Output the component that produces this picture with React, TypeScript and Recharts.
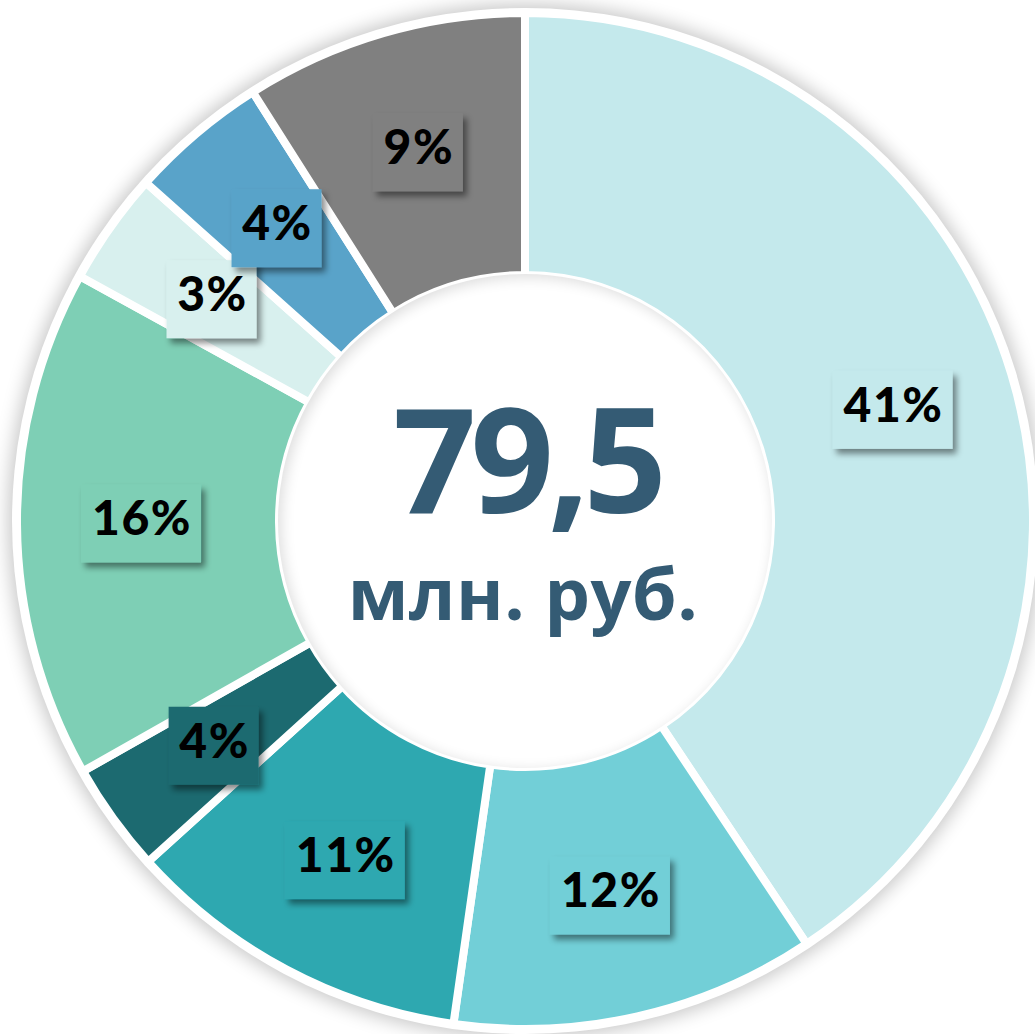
import React from 'react';
import { Cell, Pie, PieChart } from 'recharts';

// Shares of the 79,5 mln rub. total, clockwise from 12 o'clock.
const SEGMENTS = ['s1', 's2', 's3', 's4', 's5', 's6', 's7', 's8'];
const SHARES = [40.65, 11.6, 11.05, 3.5, 16.2, 3.6, 4.4, 9.0];
const LABELS = ['41%', '12%', '11%', '4%', '16%', '3%', '4%', '9%'];
const COLORS = [
  '#c4e9ec',
  '#72cfd7',
  '#2ea8b0',
  '#1c6a70',
  '#7ecfb5',
  '#d8f0ee',
  '#59a3c9',
  '#808080',
];
const TOTAL_VALUE = '79,5';
const TOTAL_UNIT = 'млн. руб.';

const W = 1035;
const H = 1034;
const CX = 525;
const CY = 521;
const RADIAN = Math.PI / 180;

const data = SEGMENTS.map((name, i) => ({ name, value: SHARES[i] }));

function renderLabel(props: any) {
  const { cx, cy, midAngle, innerRadius, outerRadius, index } = props;
  const r = (innerRadius + outerRadius) / 2 + 7;
  const x = cx + r * Math.cos(-midAngle * RADIAN);
  const y = cy + r * Math.sin(-midAngle * RADIAN);
  const text = LABELS[index];
  const bw = text.length > 2 ? 120 : 90;
  const bh = 78;
  return (
    <g key={`lbl-${index}`}>
      <rect
        x={x - bw / 2}
        y={y - bh / 2}
        width={bw}
        height={bh}
        fill={COLORS[index]}
        filter="url(#boxShadow)"
      />
      <text
        x={x + 1}
        y={y + 12}
        textAnchor="middle"
        fontFamily="Lato, 'Open Sans', sans-serif"
        fontWeight={900}
        fontSize={48}
        letterSpacing={1.5}
        fill="#000"
      >
        {text}
      </text>
    </g>
  );
}

export default function App() {
  return (
    <div style={{ position: 'absolute', left: 0, top: 0, width: W, height: H, background: '#fff' }}>
      <svg width={0} height={0} style={{ position: 'absolute' }}>
        <defs>
          <filter id="boxShadow" x="-20%" y="-20%" width="150%" height="150%">
            <feDropShadow dx={4} dy={5} stdDeviation={3} floodColor="#000" floodOpacity={0.45} />
          </filter>
        </defs>
      </svg>
      {/* white rim with soft outer shadow */}
      <div
        style={{
          position: 'absolute',
          left: CX - 513,
          top: CY - 513,
          width: 1026,
          height: 1026,
          borderRadius: '50%',
          background: '#fff',
          boxShadow: '0 0 18px 4px rgba(0,0,0,0.22)',
        }}
      />
      <div style={{ position: 'absolute', left: 0, top: 0 }}>
        <PieChart width={W} height={H} margin={{ top: 0, right: 0, bottom: 0, left: 0 }}>
          <Pie
            data={data}
            dataKey="value"
            nameKey="name"
            cx={CX}
            cy={CY}
            innerRadius={246}
            outerRadius={508}
            startAngle={90}
            endAngle={-270}
            stroke="#fff"
            strokeWidth={8}
            label={renderLabel}
            labelLine={false}
            isAnimationActive={false}
          >
            {data.map((_, i) => (
              <Cell key={i} fill={COLORS[i]} />
            ))}
          </Pie>
        </PieChart>
      </div>
      {/* hole with inner shadow + total */}
      <div
        style={{
          position: 'absolute',
          left: CX - 247,
          top: CY - 247,
          width: 494,
          height: 494,
          borderRadius: '50%',
          background: '#fff',
          boxShadow: 'inset 3px 3px 14px rgba(0,0,0,0.14)',
        }}
      />
      <svg width={W} height={H} style={{ position: 'absolute', left: 0, top: 0 }}>
        <text
          x={CX + 2}
          y={513}
          textAnchor="middle"
          fontFamily="'Open Sans', sans-serif"
          fontWeight={700}
          fontSize={146}
          letterSpacing={-6}
          fill="#345b74"
        >
          {TOTAL_VALUE}
        </text>
        <text
          x={CX - 2}
          y={620}
          textAnchor="middle"
          fontFamily="'Open Sans', sans-serif"
          fontWeight={700}
          fontSize={72}
          letterSpacing={0.5}
          fill="#345b74"
        >
          {TOTAL_UNIT}
        </text>
      </svg>
    </div>
  );
}
